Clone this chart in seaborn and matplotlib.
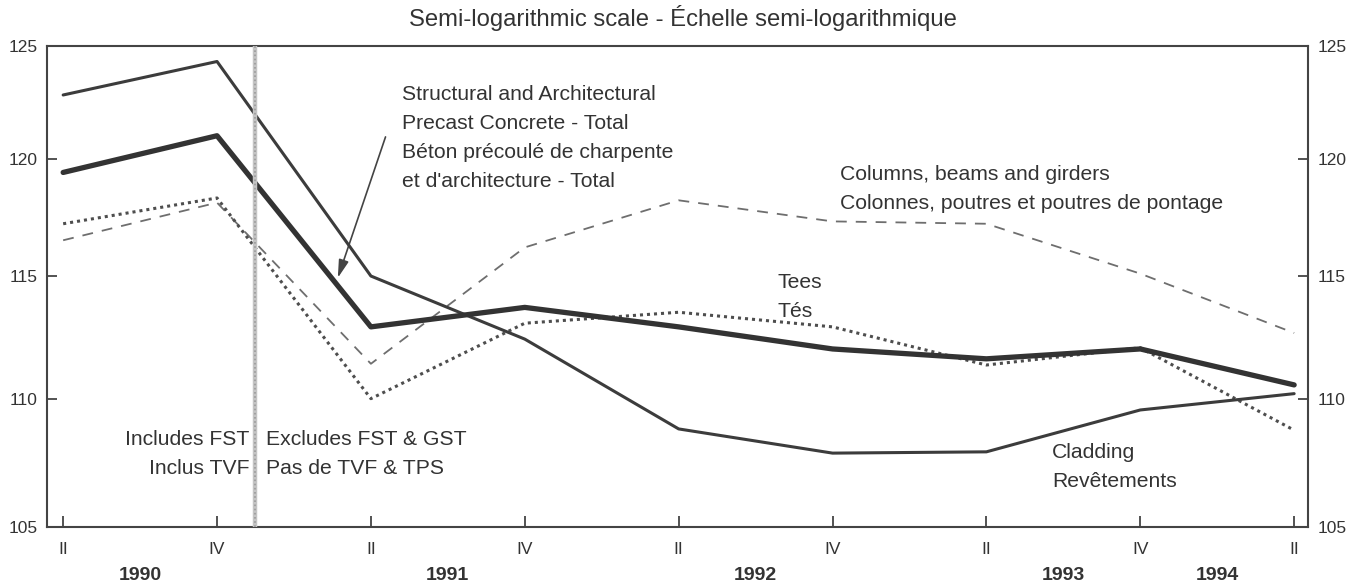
import numpy as np
import pandas as pd
import matplotlib
matplotlib.use("Agg")
import matplotlib.pyplot as plt
import matplotlib.transforms as mtransforms
import seaborn as sns

# ---------------- data ----------------
periods = ["1990 II", "1990 IV", "1991 II", "1991 IV", "1992 II",
           "1992 IV", "1993 II", "1993 IV", "1994 II"]
tick_labels = ["II", "IV", "II", "IV", "II", "IV", "II", "IV", "II"]
year_labels = ["1990", "1991", "1992", "1993", "1994"]
year_label_pos = [1, 5, 9, 13, 15]          # in quarters from 1990 II
total = [119.4, 121.0, 112.9, 113.7, 112.9, 112.0, 111.6, 112.0, 110.55]
cladding = [122.8, 124.3, 115.0, 112.4, 108.8, 107.85, 107.9, 109.55, 110.2]
tees = [117.2, 118.3, 110.0, 113.05, 113.5, 112.9, 111.35, 112.05, 108.75]
columns = [116.5, 118.1, 111.4, 116.2, 118.2, 117.3, 117.2, 115.1, 112.65]
y_ticks = [105, 110, 115, 120, 125]
tax_break = 2.5   # FST -> GST change, between 1990 IV and 1991 II

# ---------------- style ----------------
sns.set_theme(style="white")
plt.rcParams["font.family"] = ["Liberation Sans", "DejaVu Sans"]
TXT = "#333333"

W, H = 1367, 586
fig = plt.figure(figsize=(W / 100, H / 100), dpi=100)
ax = fig.add_axes([47 / W, 1 - 527 / H, (1308 - 47) / W, (527 - 46) / H])

x = np.arange(len(periods)) * 2  # quarter index (half-year steps)
df = pd.DataFrame({"x": x, "total": total, "cladding": cladding,
                   "tees": tees, "columns": columns})

sns.lineplot(data=df, x="x", y="columns", ax=ax, color="#6e6e6e", lw=1.3,
             linestyle=(0, (6, 5)), zorder=3)
sns.lineplot(data=df, x="x", y="tees", ax=ax, color="#4e4e4e", lw=2.2,
             linestyle=(0, (1, 1.3)), zorder=3)
sns.lineplot(data=df, x="x", y="cladding", ax=ax, color="#3c3c3c", lw=2.2,
             zorder=4)
sns.lineplot(data=df, x="x", y="total", ax=ax, color="#333333", lw=3.8,
             zorder=4)

ax.axvline(tax_break, color="#c4c4c4", lw=3.2, zorder=6)
ax.axvline(tax_break, color="#9a9a9a", lw=1.2, linestyle=(0, (1, 1.5)),
           zorder=7)

ax.set_yscale("log")
ax.set_ylim(105, 125)
ax.set_xlim(-0.21, 16.18)
ax.set_yticks(y_ticks)
ax.set_yticklabels([str(v) for v in y_ticks])
ax.yaxis.set_minor_locator(matplotlib.ticker.NullLocator())
ax.set_xticks(x)
ax.set_xticklabels(tick_labels)
ax.set_xlabel("")
ax.set_ylabel("")

for s in ax.spines.values():
    s.set_color("#444444")
    s.set_linewidth(1.5)
    s.set_visible(True)

ax.tick_params(axis="y", which="major", direction="in", length=7, width=1.3,
               color="#444444", left=True, right=True, labelleft=True,
               labelright=True, labelsize=12.5, labelcolor=TXT, pad=7)
ax.tick_params(axis="x", which="major", direction="in", length=8, width=1.3,
               color="#444444", bottom=True, labelsize=12.5, labelcolor=TXT,
               pad=11)
ax.grid(False)

trans = mtransforms.blended_transform_factory(ax.transData, ax.transAxes)

for lab, pos in zip(year_labels, year_label_pos):
    ax.text(pos, -0.10, lab, transform=trans, ha="center", va="center",
            fontsize=14, fontweight="bold", color=TXT)

fig.text(683 / W, 1 - 18 / H,
         "Semi-logarithmic scale - Échelle semi-logarithmique",
         ha="center", va="center", fontsize=17.2, color=TXT)

step = 29 / 481


def block(xd, ytop, lines, ha="left", size=15.2):
    for i, ln in enumerate(lines):
        ax.text(xd, ytop - i * step, ln, transform=trans, ha=ha, va="center",
                fontsize=size, color=TXT)


block(4.41, 0.900, ["Structural and Architectural",
                    "Precast Concrete - Total",
                    "Béton précoulé de charpente",
                    "et d'architecture - Total"])
block(10.10, 0.732, ["Columns, beams and girders",
                     "Colonnes, poutres et poutres de pontage"])
block(9.29, 0.509, ["Tees", "Tés"])
block(12.85, 0.154, ["Cladding", "Revêtements"])
block(2.42, 0.181, ["Includes FST", "Inclus TVF"], ha="right")
block(2.63, 0.181, ["Excludes FST & GST", "Pas de TVF & TPS"])

ax.annotate("", xy=(3.57, 0.518), xytext=(4.19, 0.811),
            xycoords=trans, textcoords=trans,
            arrowprops=dict(arrowstyle="-|>,head_length=0.9,head_width=0.25",
                            color="#444444", lw=1.2, shrinkA=0, shrinkB=0))

fig.savefig("out.png", dpi=100, facecolor="white")
